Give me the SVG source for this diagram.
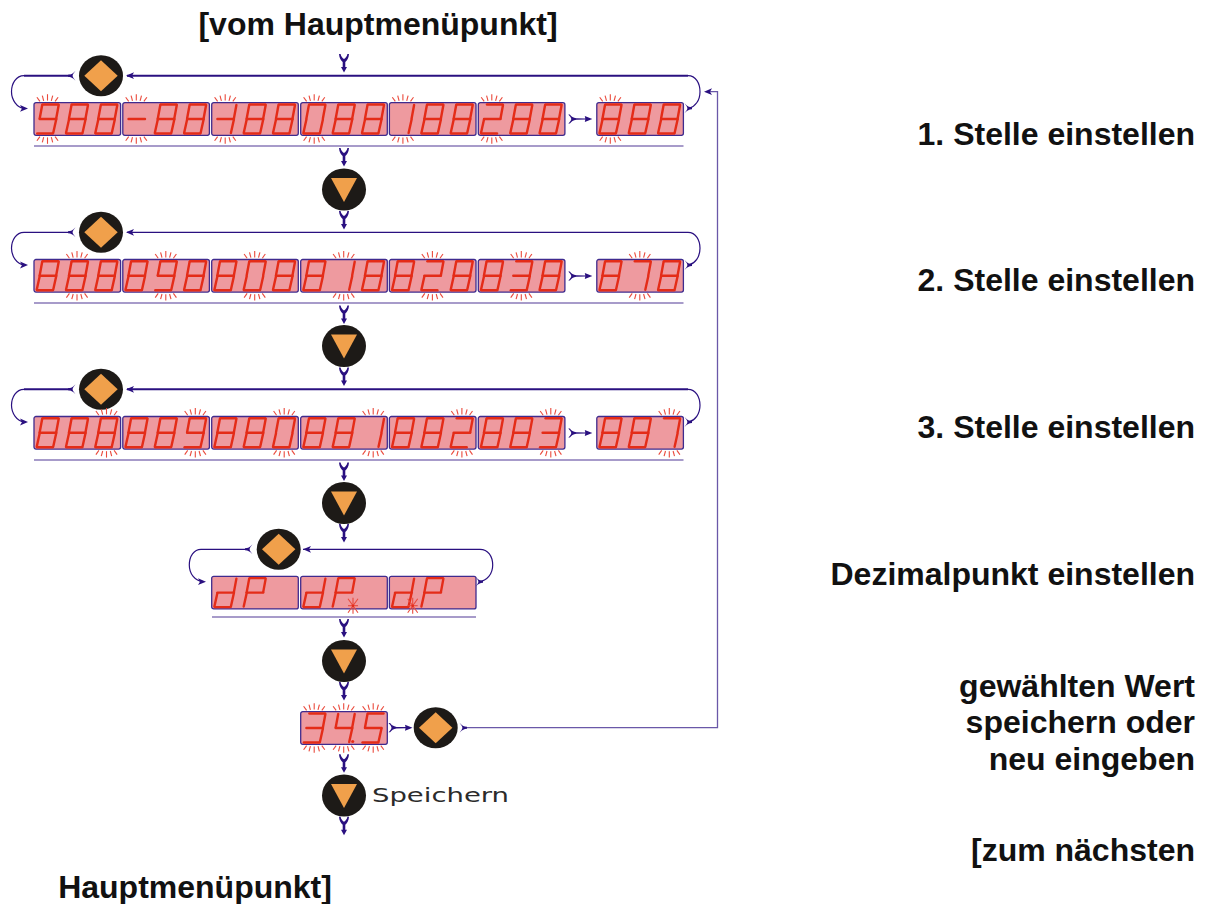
<svg xmlns="http://www.w3.org/2000/svg" width="1208" height="904" viewBox="0 0 1208 904">
<style>
text{font-family:"Liberation Sans",Arial,sans-serif;font-weight:bold;font-size:32px;fill:#111}
.r{text-anchor:end}
.sp{font-family:"DejaVu Sans",sans-serif;font-weight:normal;font-size:20px;fill:#2b2b2b}
.sg{stroke:#e42c18;stroke-width:2.4;stroke-linecap:round}
.spk line{stroke:#ea4a3c;stroke-width:1.1}
.pn{fill:#ee9a9f;stroke:#3f2b8e;stroke-width:1.3}
.bt{fill:#1d1a17}
.or{fill:#f0a04b}
.ar{fill:#2a1080}
.ln{fill:none;stroke:#2a1080}
.cv{fill:none;stroke:#2a1080;stroke-width:1.2}
.rule{stroke:#8a7ab8;stroke-width:1.5}
</style>
<defs>
<rect id="panel" class="pn" width="86.6" height="32.6" rx="2"/>
<line id="a" class="sg" x1="6" y1="0" x2="21.5" y2="0"/>
<line id="b" class="sg" x1="22" y1="0.5" x2="19.5" y2="14"/>
<line id="c" class="sg" x1="19.5" y1="15" x2="16.5" y2="28.5"/>
<line id="e" class="sg" x1="3" y1="15" x2="0" y2="28.5"/>
<line id="f" class="sg" x1="5.5" y1="0.5" x2="3" y2="14"/>
<line id="g" class="sg" x1="3" y1="14.5" x2="19.5" y2="14.5"/>
<line id="h" class="sg" x1="0.5" y1="29" x2="16" y2="29"/>
<g id="d8"><use href="#a"/><use href="#b"/><use href="#c"/><use href="#e"/><use href="#f"/><use href="#g"/><use href="#h"/></g>
<g id="d0"><use href="#a"/><use href="#b"/><use href="#c"/><use href="#e"/><use href="#f"/><use href="#h"/></g>
<g id="d1"><use href="#b"/><use href="#c"/></g>
<g id="d2"><use href="#a"/><use href="#b"/><use href="#g"/><use href="#e"/><use href="#h"/></g>
<g id="d3"><use href="#a"/><use href="#b"/><use href="#g"/><use href="#c"/><use href="#h"/></g>
<g id="d4"><use href="#f"/><use href="#g"/><use href="#b"/><use href="#c"/></g>
<g id="d5"><use href="#a"/><use href="#f"/><use href="#g"/><use href="#c"/><use href="#h"/></g>
<g id="d7"><use href="#a"/><use href="#b"/><use href="#c"/></g>
<g id="d9"><use href="#a"/><use href="#b"/><use href="#c"/><use href="#f"/><use href="#g"/><use href="#h"/></g>
<g id="dm"><use href="#g"/></g>
<g id="dh"><use href="#g"/><use href="#b"/><use href="#c"/></g>
<g id="dd"><use href="#b"/><use href="#c"/><use href="#g"/><use href="#e"/><use href="#h"/></g>
<g id="dP"><use href="#a"/><use href="#b"/><use href="#f"/><use href="#g"/><use href="#e"/></g>
<g id="spark" class="spk">
<line x1="-10.6" y1="-21.8" x2="-7.6" y2="-17.6"/><line x1="-5.2" y1="-23.4" x2="-3.8" y2="-18.2"/><line x1="0" y1="-24.8" x2="0" y2="-18.4"/><line x1="5.2" y1="-23.4" x2="3.8" y2="-18.2"/><line x1="10.6" y1="-21.8" x2="7.6" y2="-17.6"/>
<line x1="-10.6" y1="21.8" x2="-7.6" y2="17.6"/><line x1="-5.2" y1="23.4" x2="-3.8" y2="18.2"/><line x1="0" y1="24.8" x2="0" y2="18.4"/><line x1="5.2" y1="23.4" x2="3.8" y2="18.2"/><line x1="10.6" y1="21.8" x2="7.6" y2="17.6"/>
</g>
<g id="star" class="spk"><line x1="-5" y1="-7" x2="5" y2="7"/><line x1="5" y1="-7" x2="-5" y2="7"/><line x1="0" y1="-8" x2="0" y2="8"/><line x1="-5" y1="0" x2="5" y2="0"/><circle r="1.3" fill="#e32c1c"/></g>
<g id="bd"><ellipse class="bt" rx="22" ry="20.5"/><polygon class="or" points="0,-15.5 16.7,0 0,15.5 -16.7,0"/></g>
<g id="bv"><ellipse class="bt" rx="22" ry="21"/><polygon class="or" points="-13,-11.5 13,-11.5 0,12.5"/></g>
<path id="av" class="ar" d="M-5,0L-3.4,0C-3,2.5-1.5,4 0,5C1.5,4 3,2.5 3.4,0L5,0C4.8,4 3,6.5 1.3,8L1.3,13L3,13L0,18.5L-3,13L-1.3,13L-1.3,8C-3,6.5-4.8,4-5,0Z"/>
<path id="ah" class="ar" d="M0,-4.6L1.6,-4.6C3,-2.5 5,-1.4 8,-.8L17,-.6L16.5,-3L24,0L16.5,3L17,.6L8,.8C5,1.4 3,2.5 1.6,4.6L0,4.6C1.5,3 2.8,1.5 3,0C2.8,-1.5 1.5,-3 0,-4.6Z"/>
<path id="fk" class="ar" d="M7.5,-5C4.5,-2 3,-1 0,-1L0,1C3,1 4.5,2 7.5,5C6,3 4.6,1.4 4.6,0C4.6,-1.4 6,-3 7.5,-5Z"/>
<path id="fr" class="ar" d="M-7.5,-5C-4.5,-2-3,-1 0,-1L0,1C-3,1-4.5,2-7.5,5C-6,3-4.6,1.4-4.6,0C-4.6,-1.4-6,-3-7.5,-5Z"/>
<path id="hl" class="ar" d="M0,0L8,-3.4L6,0L8,3.4Z"/>
<path id="hr" class="ar" d="M0,0L-8,-3.4L-6,0L-8,3.4Z"/>
<g id="loop">
<path class="ln" d="M127,0H688"/>
<path class="ln" d="M70,0H24"/>
<path class="cv" d="M688,0C696,0 700,8 700,16C700,25 695,31 689,32.6"/>
<path class="cv" d="M24,0C16,0 11.5,8 11.5,16C11.5,24 17,32 24,32.7"/>
<use href="#hl" x="126" y="0"/><use href="#fk" x="68" y="0"/><use href="#hr" x="28" y="32.7"/><use href="#fr" x="692" y="32.6"/>
</g>
</defs>

<g id="connectors">
<use href="#loop" y="75.7" stroke-width="2"/>
<use href="#loop" y="232.3" stroke-width="1.2"/>
<use href="#loop" y="389.3" stroke-width="2"/>
<path class="cv" d="M303,549.3H480C488,549.3 492.7,556 492.7,565C492.7,574 487,581 479,581.7"/>
<path class="cv" d="M248,549.3H201C194,549.3 189.3,556 189.3,565C189.3,574 195,581 203,581.7"/>
<use href="#hl" x="303" y="549.3"/><use href="#fk" x="245" y="549.3"/><use href="#hr" x="206" y="581.7"/><use href="#fr" x="483" y="581.7"/>
<path fill="none" stroke="#6a58a8" stroke-width="1.3" d="M465,727.7H717.5V91.7H708"/>
<use href="#fr" x="467" y="727.7"/><use href="#hl" x="704" y="91.7"/>
<use href="#av" x="344" y="54"/><use href="#av" x="344" y="148"/><use href="#av" x="344" y="211"/><use href="#av" x="344" y="305.5"/><use href="#av" x="344" y="367.5"/><use href="#av" x="344" y="462.5"/><use href="#av" x="344" y="524"/><use href="#av" x="344" y="619"/><use href="#av" x="344" y="682"/><use href="#av" x="344" y="754.3"/><use href="#av" x="344" y="816.7"/>
<use href="#ah" x="568.3" y="119"/><use href="#ah" x="568.3" y="276"/><use href="#ah" x="568.3" y="433"/><use href="#ah" x="388.5" y="727.7"/>
<line class="rule" x1="34" y1="146" x2="683.5" y2="146"/><line class="rule" x1="34" y1="303" x2="683.5" y2="303"/><line class="rule" x1="34" y1="460" x2="683.5" y2="460"/><line class="rule" x1="212" y1="617" x2="476" y2="617"/>
</g>

<g id="btn-d1"><use href="#bd" x="101" y="75.7"/></g>
<g id="btn-d2"><use href="#bd" x="101" y="232.3"/></g>
<g id="btn-d3"><use href="#bd" x="101" y="389.3"/></g>
<g id="btn-d4"><use href="#bd" x="278.7" y="549.3"/></g>
<g id="btn-d5"><use href="#bd" x="435.7" y="727.7"/></g>
<g id="btn-v1"><use href="#bv" x="344" y="189.5"/></g>
<g id="btn-v2"><use href="#bv" x="344" y="346"/></g>
<g id="btn-v3"><use href="#bv" x="344" y="503"/></g>
<g id="btn-v4"><use href="#bv" x="344" y="661"/></g>
<g id="btn-v5"><use href="#bv" x="344" y="795.5"/></g>

<g id="r1p1" transform="translate(34,102.7)"><use href="#panel"/><use href="#d9" x="2.7" y="1.8"/><use href="#d8" x="32" y="1.8"/><use href="#d8" x="61.3" y="1.8"/><use href="#spark" x="13.5" y="16.3"/></g>
<g id="r1p2" transform="translate(122.8,102.7)"><use href="#panel"/><use href="#dm" x="2.7" y="1.8"/><use href="#d8" x="32" y="1.8"/><use href="#d8" x="61.3" y="1.8"/><use href="#spark" x="13.5" y="16.3"/></g>
<g id="r1p3" transform="translate(211.7,102.7)"><use href="#panel"/><use href="#dh" x="2.7" y="1.8"/><use href="#d8" x="32" y="1.8"/><use href="#d8" x="61.3" y="1.8"/><use href="#spark" x="13.5" y="16.3"/></g>
<g id="r1p4" transform="translate(300.7,102.7)"><use href="#panel"/><use href="#d0" x="2.7" y="1.8"/><use href="#d8" x="32" y="1.8"/><use href="#d8" x="61.3" y="1.8"/><use href="#spark" x="13.5" y="16.3"/></g>
<g id="r1p5" transform="translate(389.4,102.7)"><use href="#panel"/><use href="#d1" x="2.7" y="1.8"/><use href="#d8" x="32" y="1.8"/><use href="#d8" x="61.3" y="1.8"/><use href="#spark" x="13.5" y="16.3"/></g>
<g id="r1p6" transform="translate(478.3,102.7)"><use href="#panel"/><use href="#d2" x="2.7" y="1.8"/><use href="#d8" x="32" y="1.8"/><use href="#d8" x="61.3" y="1.8"/><use href="#spark" x="13.5" y="16.3"/></g>
<g id="r1p7" transform="translate(596.8,102.7)"><use href="#panel"/><use href="#d8" x="2.7" y="1.8"/><use href="#d8" x="32" y="1.8"/><use href="#d8" x="61.3" y="1.8"/><use href="#spark" x="13.5" y="16.3"/></g>

<g id="r2p1" transform="translate(34,259.5)"><use href="#panel"/><use href="#d8" x="2.7" y="1.8"/><use href="#d8" x="32" y="1.8"/><use href="#d8" x="61.3" y="1.8"/><use href="#spark" x="43" y="16.3"/></g>
<g id="r2p2" transform="translate(122.8,259.5)"><use href="#panel"/><use href="#d8" x="2.7" y="1.8"/><use href="#d9" x="32" y="1.8"/><use href="#d8" x="61.3" y="1.8"/><use href="#spark" x="43" y="16.3"/></g>
<g id="r2p3" transform="translate(211.7,259.5)"><use href="#panel"/><use href="#d8" x="2.7" y="1.8"/><use href="#d0" x="32" y="1.8"/><use href="#d8" x="61.3" y="1.8"/><use href="#spark" x="43" y="16.3"/></g>
<g id="r2p4" transform="translate(300.7,259.5)"><use href="#panel"/><use href="#d8" x="2.7" y="1.8"/><use href="#d1" x="32" y="1.8"/><use href="#d8" x="61.3" y="1.8"/><use href="#spark" x="43" y="16.3"/></g>
<g id="r2p5" transform="translate(389.4,259.5)"><use href="#panel"/><use href="#d8" x="2.7" y="1.8"/><use href="#d2" x="32" y="1.8"/><use href="#d8" x="61.3" y="1.8"/><use href="#spark" x="43" y="16.3"/></g>
<g id="r2p6" transform="translate(478.3,259.5)"><use href="#panel"/><use href="#d8" x="2.7" y="1.8"/><use href="#d3" x="32" y="1.8"/><use href="#d8" x="61.3" y="1.8"/><use href="#spark" x="43" y="16.3"/></g>
<g id="r2p7" transform="translate(596.8,259.5)"><use href="#panel"/><use href="#d8" x="2.7" y="1.8"/><use href="#d7" x="32" y="1.8"/><use href="#d8" x="61.3" y="1.8"/><use href="#spark" x="43" y="16.3"/></g>

<g id="r3p1" transform="translate(34,416.5)"><use href="#panel"/><use href="#d8" x="2.7" y="1.8"/><use href="#d8" x="32" y="1.8"/><use href="#d8" x="61.3" y="1.8"/><use href="#spark" x="72.5" y="16.3"/></g>
<g id="r3p2" transform="translate(122.8,416.5)"><use href="#panel"/><use href="#d8" x="2.7" y="1.8"/><use href="#d8" x="32" y="1.8"/><use href="#d9" x="61.3" y="1.8"/><use href="#spark" x="72.5" y="16.3"/></g>
<g id="r3p3" transform="translate(211.7,416.5)"><use href="#panel"/><use href="#d8" x="2.7" y="1.8"/><use href="#d8" x="32" y="1.8"/><use href="#d0" x="61.3" y="1.8"/><use href="#spark" x="72.5" y="16.3"/></g>
<g id="r3p4" transform="translate(300.7,416.5)"><use href="#panel"/><use href="#d8" x="2.7" y="1.8"/><use href="#d8" x="32" y="1.8"/><use href="#d1" x="61.3" y="1.8"/><use href="#spark" x="72.5" y="16.3"/></g>
<g id="r3p5" transform="translate(389.4,416.5)"><use href="#panel"/><use href="#d8" x="2.7" y="1.8"/><use href="#d8" x="32" y="1.8"/><use href="#d2" x="61.3" y="1.8"/><use href="#spark" x="72.5" y="16.3"/></g>
<g id="r3p6" transform="translate(478.3,416.5)"><use href="#panel"/><use href="#d8" x="2.7" y="1.8"/><use href="#d8" x="32" y="1.8"/><use href="#d3" x="61.3" y="1.8"/><use href="#spark" x="72.5" y="16.3"/></g>
<g id="r3p7" transform="translate(596.8,416.5)"><use href="#panel"/><use href="#d8" x="2.7" y="1.8"/><use href="#d8" x="32" y="1.8"/><use href="#d7" x="61.3" y="1.8"/><use href="#spark" x="72.5" y="16.3"/></g>

<g id="dp1" transform="translate(211.7,576.3)"><use href="#panel"/><use href="#dd" x="2.7" y="1.8"/><use href="#dP" x="32" y="1.8"/></g>
<g id="dp2" transform="translate(300.7,576.3)"><use href="#panel"/><use href="#dd" x="2.7" y="1.8"/><use href="#dP" x="32" y="1.8"/><use href="#star" x="52.3" y="29.4"/></g>
<g id="dp3" transform="translate(389.4,576.3)"><use href="#panel"/><use href="#dd" x="2.7" y="1.8"/><use href="#dP" x="32" y="1.8"/><use href="#star" x="23.3" y="29.4"/></g>

<g id="result" transform="translate(300.7,711.7)"><use href="#panel"/><use href="#d3" x="2.7" y="1.8"/><use href="#d4" x="32" y="1.8"/><use href="#d5" x="61.3" y="1.8"/><circle cx="52" cy="29.8" r="1.6" fill="#e42c18"/><use href="#spark" x="13.5" y="16.3"/><use href="#spark" x="43" y="16.3"/><use href="#spark" x="72.5" y="16.3"/></g>

<g id="labels">
<text x="378" y="35" text-anchor="middle">[vom Hauptmenüpunkt]</text>
<text class="r" x="1195" y="145">1. Stelle einstellen</text>
<text class="r" x="1195" y="291">2. Stelle einstellen</text>
<text class="r" x="1195" y="438">3. Stelle einstellen</text>
<text class="r" x="1195" y="585">Dezimalpunkt einstellen</text>
<text class="r" x="1195" y="697">gewählten Wert</text>
<text class="r" x="1195" y="733">speichern oder</text>
<text class="r" x="1195" y="770">neu eingeben</text>
<text class="r" x="1195" y="861">[zum nächsten</text>
<text x="195" y="898" text-anchor="middle">Hauptmenüpunkt]</text>
<text class="sp" x="372" y="802" textLength="137" lengthAdjust="spacingAndGlyphs">Speichern</text>
</g>
</svg>
